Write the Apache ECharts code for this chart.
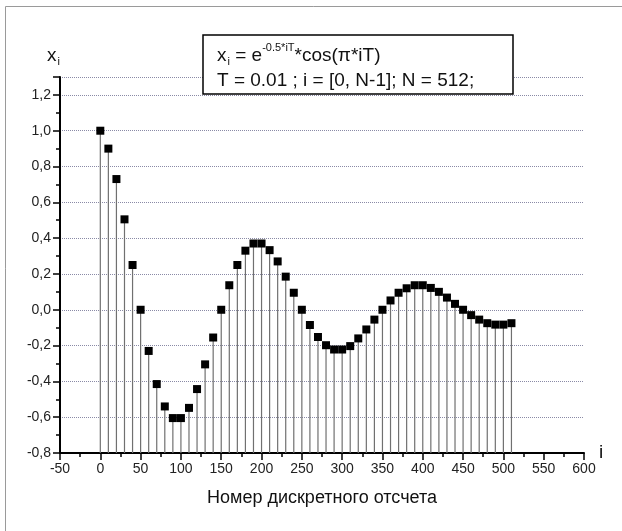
<!DOCTYPE html>
<html>
<head>
<meta charset="utf-8">
<script src="https://cdn.jsdelivr.net/npm/echarts@6/dist/echarts.min.js"></script>
<style>
  html, body { margin: 0; padding: 0; background: #fff; }
  #chart { width: 622px; height: 531px; }
</style>
</head>
<body>
<div id="chart"></div>
<script>
// номера отсчетов (каждый 10-й)
var sampleIdx = [0, 10, 20, 30, 40, 50, 60, 70, 80, 90, 100, 110, 120, 130, 140, 150, 160, 170, 180, 190,
  200, 210, 220, 230, 240, 250, 260, 270, 280, 290, 300, 310, 320, 330, 340, 350, 360, 370, 380, 390,
  400, 410, 420, 430, 440, 450, 460, 470, 480, 490, 500, 510]
// значения x_i
var sampleVal = [1.0, 0.90, 0.73, 0.505, 0.25, 0.0, -0.23, -0.415, -0.54, -0.605, -0.605, -0.548, -0.443, -0.305, -0.155, 0.0,
  0.137, 0.25, 0.33, 0.37, 0.37, 0.333, 0.27, 0.185, 0.095, 0.0, -0.085, -0.152, -0.198, -0.222, -0.222, -0.203, -0.16,
  -0.11, -0.055, 0.0, 0.052, 0.095, 0.12, 0.137, 0.137, 0.122, 0.1, 0.068, 0.033, 0.0, -0.03, -0.055, -0.075, -0.083,
  -0.083, -0.075]
var xTitle = 'Номер дискретного отсчета'

var chart = echarts.init(document.getElementById('chart'))
var font = 'Liberation Sans'
var yBase = -0.8

var points = sampleIdx.map(function (v, k) { return [v, sampleVal[k]] })

var option = {
  animation: false,
  backgroundColor: '#fff',
  grid: { left: 60, right: 38, top: 77, bottom: 78 },
  xAxis: {
    type: 'value',
    min: -50,
    max: 600,
    interval: 50,
    name: xTitle,
    nameLocation: 'middle',
    nameGap: 36,
    nameTextStyle: { fontFamily: font, fontSize: 18, color: '#111' },
    axisLine: { onZero: false, lineStyle: { color: '#000', width: 2 } },
    axisTick: { show: true, length: 7, lineStyle: { color: '#000', width: 1.5 } },
    minorTick: { show: true, splitNumber: 2, length: 4, lineStyle: { color: '#000', width: 1.5 } },
    axisLabel: { fontFamily: font, fontSize: 14, color: '#222', margin: 9 },
    splitLine: { show: false }
  },
  yAxis: {
    type: 'value',
    min: -0.8,
    max: 1.3,
    interval: 0.2,
    axisLine: { onZero: false, lineStyle: { color: '#000', width: 2 } },
    axisTick: { show: true, length: 7, lineStyle: { color: '#000', width: 1.5 } },
    minorTick: { show: true, splitNumber: 2, length: 4, lineStyle: { color: '#000', width: 1.5 } },
    axisLabel: {
      fontFamily: font, fontSize: 14, color: '#222', margin: 9, showMaxLabel: false,
      formatter: function (v) { return v.toFixed(1).replace('.', ',') }
    },
    splitLine: { show: true, lineStyle: { color: '#8a8aa6', type: 'dotted', width: 1 } }
  },
  series: [
    {
      // стебли от оси до точки
      type: 'custom',
      data: points,
      renderItem: function (params, api) {
        var top = api.coord([api.value(0), api.value(1)])
        var bot = api.coord([api.value(0), yBase])
        return {
          type: 'line',
          shape: { x1: top[0], y1: top[1], x2: bot[0], y2: bot[1] },
          style: { stroke: '#707070', lineWidth: 1.2 }
        }
      },
      z: 2
    },
    {
      type: 'scatter',
      data: points,
      symbol: 'rect',
      symbolSize: 8,
      itemStyle: { color: '#000', opacity: 1 },
      z: 3
    }
  ],
  graphic: [
    { type: 'line', shape: { x1: 5.5, y1: 6.5, x2: 5.5, y2: 531 }, style: { stroke: '#9a9a9a', lineWidth: 1 } },
    { type: 'line', shape: { x1: 5.5, y1: 6.5, x2: 622, y2: 6.5 }, style: { stroke: '#9a9a9a', lineWidth: 1 } },
    {
      type: 'rect',
      shape: { x: 203, y: 35, width: 310, height: 59 },
      style: { fill: '#fff', stroke: '#000', lineWidth: 1.5 },
      z: 100
    },
    {
      type: 'text',
      left: 217, top: 42, z: 101,
      style: {
        text: '{n|x}{sub|i}{n| = e}{sup|-0.5*iT}{n|*cos(π*iT)}\n{n|T = 0.01 ; i = [0, N-1]; N = 512;}',
        fontFamily: font,
        fill: '#111',
        rich: {
          n: { fontFamily: font, fontSize: 19, lineHeight: 23, fill: '#111' },
          sub: { fontFamily: font, fontSize: 11, padding: [13, 0, 0, 1], fill: '#111' },
          sup: { fontFamily: font, fontSize: 11, padding: [0, 0, 16, 0], fill: '#111' }
        }
      }
    },
    {
      type: 'text',
      left: 47, top: 46,
      style: {
        text: '{n|x}{sub|i}',
        rich: {
          n: { fontFamily: font, fontSize: 19, fill: '#111' },
          sub: { fontFamily: font, fontSize: 11, padding: [13, 0, 0, 1], fill: '#111' }
        }
      }
    },
    {
      type: 'text',
      left: 599, top: 443,
      style: { text: 'i', fontFamily: font, fontSize: 19, fill: '#111' }
    }
  ]
}
chart.setOption(option)
</script>
</body>
</html>
